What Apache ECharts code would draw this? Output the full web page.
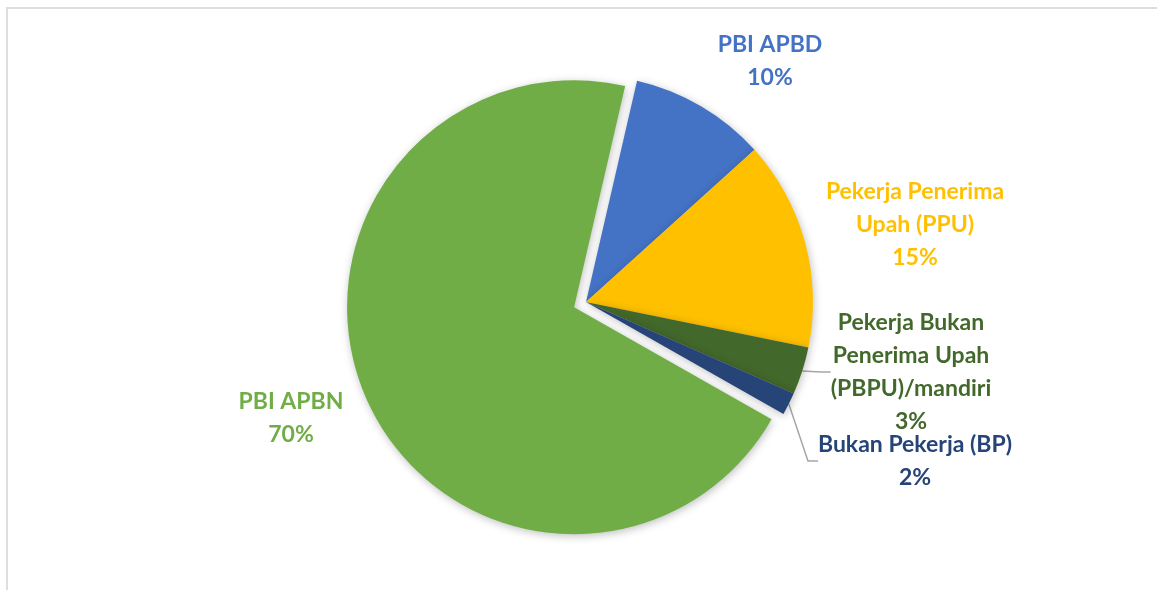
<!DOCTYPE html>
<html>
<head>
<meta charset="utf-8">
<script src="https://cdn.jsdelivr.net/npm/echarts@6/dist/echarts.min.js"></script>
<style>
  html, body { margin: 0; padding: 0; background: #fff; }
  #frame {
    position: absolute; left: 6px; top: 7px; right: 0; bottom: 0;
    border-top: 2px solid #dedede; border-left: 2px solid #dedede;
  }
  #chart { position: absolute; left: 0; top: 0; width: 1157px; height: 590px; }
</style>
</head>
<body>
<div id="frame"></div>
<div id="chart"></div>
<script>
// data
const categories = [
  'PBI APBD',
  'Pekerja Penerima\nUpah (PPU)',
  'Pekerja Bukan\nPenerima Upah\n(PBPU)/mandiri',
  'Bukan Pekerja (BP)',
  'PBI APBN'
]
const values = [9.7, 14.9, 3.4, 1.6, 70.4]

const colors = ['#4472C4', '#FFC000', '#43682B', '#264478', '#70AD47']
const labelColors = ['#4472C4', '#FFC000', '#43682B', '#264478', '#70AD47']
// label block centres
const labelPos = [[770, 61], [915, 225], [911, 372], [915, 461], [291, 418]]
const withLeader = [false, false, true, true, false]
const exploded = 4

const chart = echarts.init(document.getElementById('chart'))

const labelBase = {
  show: true,
  position: 'outside',
  fontFamily: 'Lato',
  fontWeight: 'bold',
  fontSize: 23,
  lineHeight: 33,
  align: 'center',
  formatter: p => p.name + '\n' + Math.round(p.percent) + '%'
}
const layoutFn = p => ({
  x: labelPos[p.dataIndex][0],
  y: labelPos[p.dataIndex][1],
  align: 'center',
  verticalAlign: 'middle'
})

chart.setOption({
  animation: false,
  series: [{
    type: 'pie',
    center: [586, 302],
    radius: 227,
    startAngle: 77,
    clockwise: true,
    selectedMode: 'single',
    selectedOffset: 13,
    itemStyle: {
      shadowBlur: 8,
      shadowColor: 'rgba(0,0,0,0.25)',
      shadowOffsetX: 1,
      shadowOffsetY: 2
    },
    label: labelBase,
    labelLine: {
      lineStyle: { color: '#a6a6a6', width: 1.5 },
      length: 10,
      length2: 10
    },
    labelLayout: layoutFn,
    emphasis: { disabled: true },
    data: categories.map((name, i) => ({
      name,
      value: values[i],
      selected: i === exploded,
      itemStyle: { color: colors[i] },
      select: { itemStyle: { color: colors[i] } },
      label: { show: i !== exploded, color: labelColors[i] },
      labelLine: { show: withLeader[i] }
    }))
  }, {
    // label carrier for the exploded slice (select state ignores labelLayout)
    type: 'pie',
    silent: true,
    center: [586, 302],
    radius: 227,
    startAngle: 77,
    clockwise: true,
    itemStyle: { color: 'rgba(0,0,0,0)' },
    label: labelBase,
    labelLine: { show: false },
    labelLayout: layoutFn,
    emphasis: { disabled: true },
    data: categories.map((name, i) => ({
      name,
      value: values[i],
      label: { show: i === exploded, color: labelColors[i] }
    }))
  }]
})
</script>
</body>
</html>
